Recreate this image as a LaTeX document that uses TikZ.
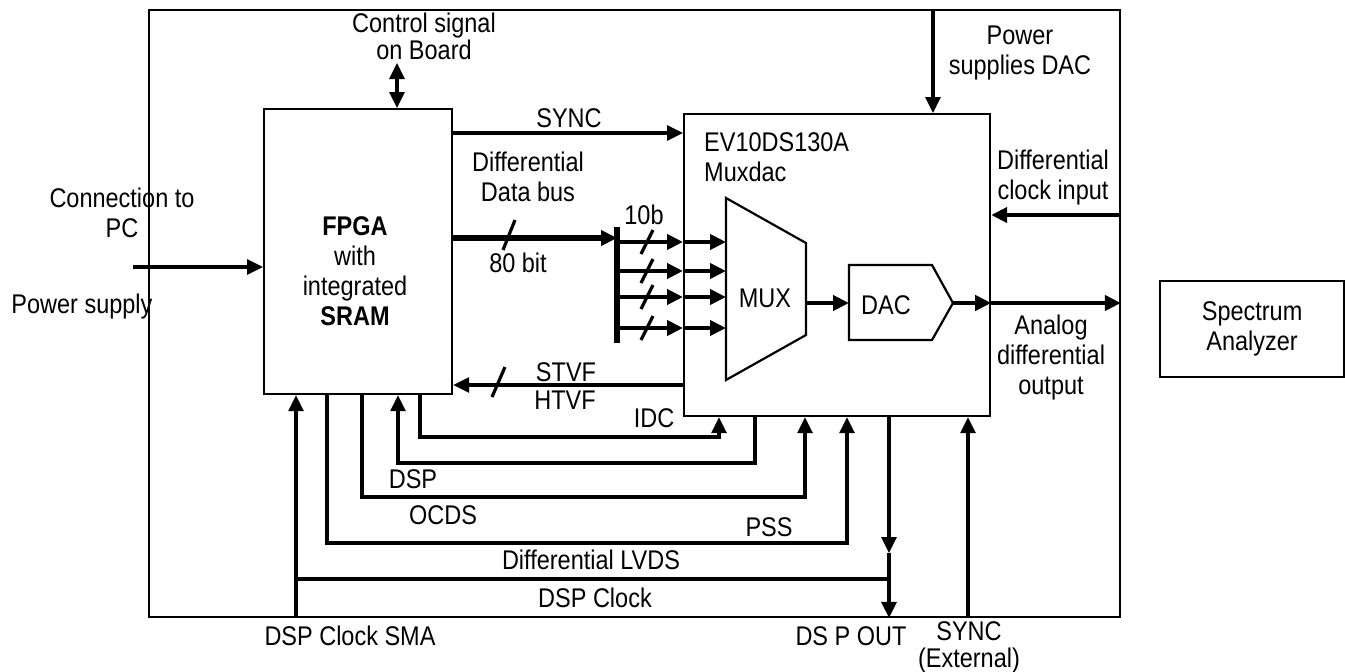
\documentclass[tikz,border=0pt]{standalone}
\usepackage{fontspec}
\setmainfont[FakeStretch=0.87]{Liberation Sans}
\usetikzlibrary{positioning,arrows.meta,calc}

\begin{document}
\begin{tikzpicture}[x=1pt,y=-1pt,font=\fontsize{27}{30}\selectfont,
  >={Triangle[length=16pt,width=15pt]},
  blk/.style={draw,line width=2.2pt,inner sep=0pt,anchor=north west},
  shp/.style={draw,line width=2.2pt},
  lbl/.style={align=center,inner sep=0pt},
  sig/.style={line width=3.2pt},
  fat/.style={line width=4.2pt},
  bus/.style={line width=5.6pt}]
  \useasboundingbox (0,0) rectangle (1345,672);
  \node[blk,line width=1.9pt,minimum width=971pt,minimum height=607pt] (board) at (148,9) {};
  \node[blk,minimum width=188pt,minimum height=285pt] (fpga) at (263,108) {};
  \node[blk,minimum width=306pt,minimum height=302pt] (mdac) at (683,113) {};
  \node[blk,minimum width=184pt,minimum height=96pt,align=center] (spec) at (1159,280) {Spectrum\\Analyzer};
  \node[lbl] (ftxt) at (355,271) {\textbf{FPGA}\\with\\integrated\\\textbf{SRAM}};
  \node[lbl,align=left,anchor=north west] (mname) at (704,132) {EV10DS130A\\Muxdac};
  \draw[shp] (726,198) -- (806,243) -- (806,335) -- (726,380) -- cycle;
  \node (mux) at (765,298) {MUX};
  \draw[shp] (849,265) -- (932,265) -- (953,303) -- (932,340) -- (849,340) -- cycle;
  \node (dac) at (886,305) {DAC};
  \coordinate (muxo) at (806,303); \coordinate (dacin) at (849,303); \coordinate (dacout) at (953,303);
  \coordinate (ctl) at (397,63); \coordinate (pwr) at (933,0); \coordinate (pc) at (133,267);
  \coordinate (barT) at (617,227); \coordinate (barB) at (617,343); \coordinate (muxin) at (726,0);
  \node[lbl] (lctl) at (424,36) {Control signal\\[-3pt]on Board};
  \node[lbl] (lpwr) at (1020,53) {Power\\supplies DAC};
  \node[lbl] (lpc) at (122,213) {Connection to\\PC};
  \node[lbl] (lps) at (82,307) {Power supply};
  \node[lbl] (lsync) at (569,118) {SYNC};
  \node[lbl] (lbus) at (528,177) {Differential\\Data bus};
  \node[lbl] (l80) at (518,263) {80 bit};
  \node[lbl] (l10) at (644,215) {10b};
  \node[lbl] (lclk) at (1053,178) {Differential\\clock input};
  \node[lbl] (lout) at (1051,358) {Analog\\differential\\output};
  \node[lbl] (lstvf) at (566,372) {STVF};
  \node[lbl] (lhtvf) at (565,400) {HTVF};
  \node[lbl] (lidc) at (654,418) {IDC};
  \node[lbl] (ldsp) at (413,479) {DSP};
  \node[lbl] (locds) at (443,515) {OCDS};
  \node[lbl] (lpss) at (769,527) {PSS};
  \node[lbl] (llvds) at (591,560) {Differential LVDS};
  \node[lbl] (ldclk) at (595,598) {DSP Clock};
  \node[lbl] (lsma) at (350,636) {DSP Clock SMA};
  \node[lbl] (ldout) at (851,636) {DS P OUT};
  \node[lbl] (lext) at (969,647) {SYNC\\[-3pt](External)};
  \draw[sig,<->] (ctl) -- (ctl |- fpga.north);
  \draw[sig,->] (pwr |- board.north) -- (pwr |- mdac.north);
  \draw[sig,->] (pc) -- (pc -| fpga.west);
  \draw[sig,->] (fpga.east |- 0,133) -- (mdac.west |- 0,133);
  \draw[bus,->] (fpga.east |- 0,238) -- (barT |- 0,238);
  \draw[sig] (503,250) -- (515,220);
  \draw[bus] (barT) -- (barB);
  \foreach \y in {242,271,297,328}{
    \draw[fat,->] (barT |- 0,\y) -- (mdac.west |- 0,\y);
    \draw[fat,->] (mdac.west |- 0,\y) -- (muxin |- 0,\y);
    \draw[sig] (641,\y+12) -- (653,\y-12);
  }
  \draw[fat,->] (muxo) -- (dacin);
  \draw[fat,->] (dacout) -- (mdac.east |- dacout);
  \draw[fat,->] (mdac.east |- dacout) -- (board.east |- dacout);
  \draw[fat,->] (board.east |- 0,215) -- (mdac.east |- 0,215);
  \draw[sig,->] (mdac.west |- 0,385) -- (fpga.east |- 0,385);
  \draw[sig] (492,397) -- (505,367);
  \draw[sig,->] (fpga.south -| 420,0) |- (719,437) -- (719,437 |- mdac.south);
  \draw[sig,->] (mdac.south -| 755,0) |- (398,463) -- (398,463 |- fpga.south);
  \draw[sig,->] (fpga.south -| 362,0) |- (805,497) -- (805,497 |- mdac.south);
  \draw[sig,->] (fpga.south -| 327,0) |- (847,543) -- (847,543 |- mdac.south);
  \draw[sig,->] (board.south -| 296,0) -- (296,0 |- fpga.south);
  \draw[sig] (296,579) -- (889,579);
  \draw[sig,->] (mdac.south -| 889,0) -- (889,553);
  \draw[sig,->] (889,553) -- (board.south -| 889,0);
  \draw[sig,->] (board.south -| 968,0) -- (968,0 |- mdac.south);
\end{tikzpicture}
\end{document}
